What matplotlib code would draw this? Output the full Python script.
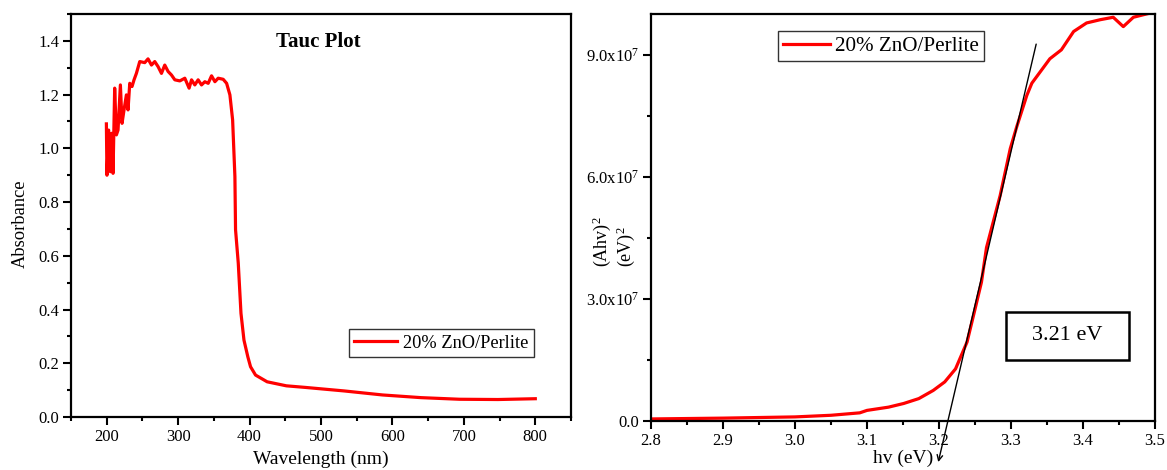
import matplotlib
matplotlib.use('Agg')
import matplotlib.pyplot as plt
from matplotlib.ticker import MultipleLocator, FixedLocator, FuncFormatter
from matplotlib.patches import Rectangle

plt.rcParams['font.family'] = ['Liberation Serif', 'DejaVu Serif']
plt.rcParams['mathtext.fontset'] = 'custom'
plt.rcParams['mathtext.rm'] = 'Liberation Serif'
plt.rcParams['mathtext.it'] = 'Liberation Serif:italic'

# absorbance spectrum (left panel)
wavelength = [199.6, 200.4, 202.8, 205.2, 207.0, 208.9, 211.2, 213.6, 215.9, 219.2,
              221.5, 224.3, 227.6, 229.9, 232.3, 235.5, 238.3, 241.6, 246.3, 253.3,
              257.9, 262.7, 267.3, 272.0, 276.7, 281.3, 286.0, 290.7, 295.4, 302.4,
              309.4, 315.4, 318.8, 323.4, 328.0, 332.8, 337.4, 342.1, 346.8, 351.5,
              356.1, 363.1, 367.9, 372.5, 376.3, 379.5, 380.4, 384.2, 388.0, 392.2,
              397.6, 401.4, 408.4, 424.6, 451.5, 478.4, 532.3, 586.1, 640.0, 693.8,
              747.7, 800.0]
absorbance = [1.091, 0.900, 1.068, 0.913, 1.056, 0.907, 1.224, 1.050, 1.068, 1.236,
              1.093, 1.143, 1.199, 1.143, 1.242, 1.230, 1.255, 1.279, 1.323, 1.319,
              1.333, 1.310, 1.323, 1.304, 1.279, 1.310, 1.286, 1.273, 1.255, 1.251,
              1.261, 1.224, 1.255, 1.236, 1.255, 1.236, 1.248, 1.242, 1.270, 1.248,
              1.261, 1.257, 1.242, 1.199, 1.106, 0.895, 0.697, 0.573, 0.386, 0.286,
              0.224, 0.187, 0.156, 0.131, 0.116, 0.110, 0.097, 0.082, 0.072, 0.066,
              0.065, 0.068]

# Tauc curve (right panel)
hv = [2.80, 2.85, 2.90, 2.95, 3.00, 3.05, 3.09, 3.10, 3.13, 3.151, 3.172, 3.192,
      3.208, 3.223, 3.239, 3.249, 3.259, 3.266, 3.285, 3.299, 3.308, 3.322, 3.329,
      3.354, 3.370, 3.387, 3.405, 3.424, 3.442, 3.456, 3.470, 3.488, 3.50]
ahv2 = [0.05e7, 0.06e7, 0.07e7, 0.085e7, 0.10e7, 0.14e7, 0.20e7, 0.26e7, 0.34e7,
        0.43e7, 0.55e7, 0.75e7, 0.96e7, 1.28e7, 1.94e7, 2.67e7, 3.41e7, 4.26e7,
        5.54e7, 6.69e7, 7.23e7, 8.0e7, 8.3e7, 8.9e7, 9.12e7, 9.57e7, 9.78e7,
        9.86e7, 9.92e7, 9.69e7, 9.92e7, 10.0e7, 10.05e7]

tangent_hv = [3.335, 3.199]
tangent_y = [9.26e7, -1.01e7]
band_gap = '3.21 eV'
label = '20% ZnO/Perlite'

fig = plt.figure(figsize=(11.67, 4.70), dpi=100)
ax1 = fig.add_axes([0.0608, 0.1128, 0.4285, 0.8574])
ax2 = fig.add_axes([0.5578, 0.1043, 0.4319, 0.8659])

for ax in (ax1, ax2):
    for s in ax.spines.values():
        s.set_linewidth(1.6)
    ax.tick_params(which='major', direction='out', length=5.5, width=1.5, labelsize=12,
                   top=False, right=False, pad=3)
    ax.tick_params(which='minor', direction='out', length=3, width=1.5,
                   top=False, right=False)

# left panel
ax1.plot(wavelength, absorbance, color='#ff0000', lw=2.3, label=label)
ax1.set_xlim(150, 850)
ax1.set_ylim(0, 1.5)
ax1.xaxis.set_major_locator(FixedLocator([200, 300, 400, 500, 600, 700, 800]))
ax1.xaxis.set_minor_locator(MultipleLocator(50))
ax1.yaxis.set_major_locator(FixedLocator([0, 0.2, 0.4, 0.6, 0.8, 1.0, 1.2, 1.4]))
ax1.yaxis.set_minor_locator(MultipleLocator(0.1))
ax1.yaxis.set_major_formatter(FuncFormatter(lambda v, p: f'{v:.1f}'))
ax1.set_xlabel('Wavelength (nm)', fontsize=14, labelpad=4)
ax1.set_ylabel('Absorbance', fontsize=13.3)
ax1.yaxis.set_label_coords(-0.084, 0.479)
ax1.text(0.494, 0.93, 'Tauc Plot', transform=ax1.transAxes, fontsize=15,
         fontweight='bold', ha='center', va='center')
leg1 = ax1.legend(loc='upper left', bbox_to_anchor=(0.556, 0.218), fontsize=13.2,
                  frameon=True, fancybox=False, edgecolor='black', handlelength=2.3,
                  borderpad=0.3, handletextpad=0.33, borderaxespad=0)
leg1.get_frame().set_linewidth(1.0)

# right panel
ax2.plot(hv, ahv2, color='#ff0000', lw=2.3, label=label)
ax2.set_xlim(2.8, 3.5)
ax2.set_ylim(0, 1.0e8)
ax2.xaxis.set_major_locator(MultipleLocator(0.1))
ax2.xaxis.set_minor_locator(MultipleLocator(0.05))
ax2.xaxis.set_major_formatter(FuncFormatter(lambda v, p: f'{v:.1f}'))
ax2.yaxis.set_major_locator(FixedLocator([0, 3e7, 6e7, 9e7]))
ax2.yaxis.set_minor_locator(MultipleLocator(1.5e7))


def sci_fmt(v, p):
    if v == 0:
        return '0.0'
    return f'{v / 1e7:.1f}x10$^{{7}}$'


ax2.yaxis.set_major_formatter(FuncFormatter(sci_fmt))
ax2.set_xlabel('hv (eV)', fontsize=14, labelpad=1)
ax2.set_ylabel('(Ahv)$^{2}$\n(eV)$^{2}$', fontsize=13, linespacing=1.05,
               multialignment='left')
ax2.yaxis.set_label_coords(-0.028, 0.44)

ax2.annotate('', xy=(tangent_hv[1], tangent_y[1]), xytext=(tangent_hv[0], tangent_y[0]),
             xycoords='data', annotation_clip=False,
             arrowprops=dict(arrowstyle='->', color='black', lw=1.0,
                             shrinkA=0, shrinkB=0, mutation_scale=10))

ax2.add_patch(Rectangle((0.704, 0.150), 0.244, 0.118, transform=ax2.transAxes,
                        fill=False, edgecolor='black', lw=1.8))
ax2.text(0.826, 0.209, band_gap, transform=ax2.transAxes, fontsize=16,
         ha='center', va='center')

leg2 = ax2.legend(loc='upper left', bbox_to_anchor=(0.252, 0.958), fontsize=15.2,
                  frameon=True, fancybox=False, edgecolor='black', handlelength=2.2,
                  borderpad=0.25, handletextpad=0.25, borderaxespad=0)
leg2.get_frame().set_linewidth(1.0)

fig.savefig('out.png', dpi=100)
